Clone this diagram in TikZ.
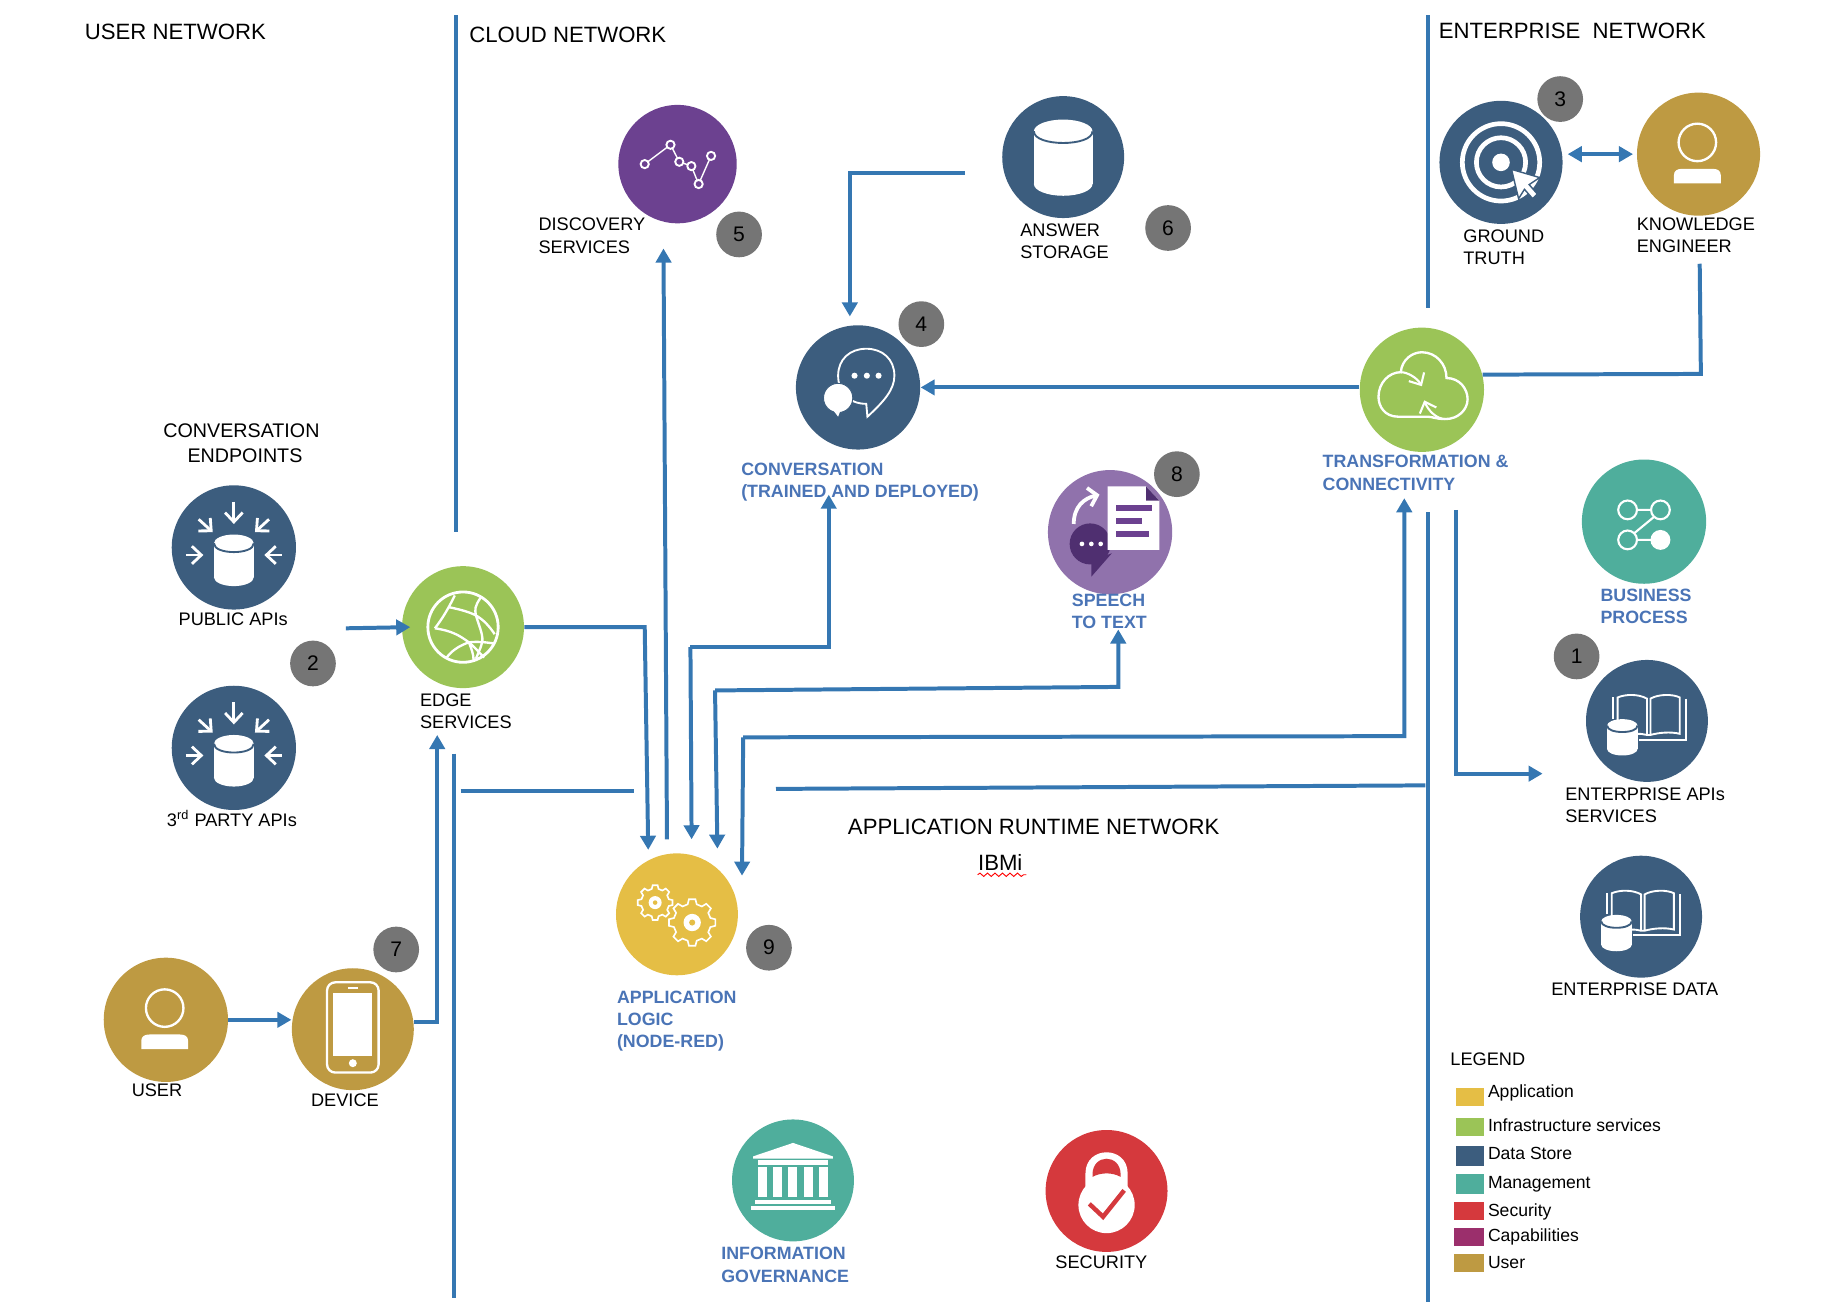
\documentclass[tikz,border=0pt]{standalone}
\usepackage{fontspec}
\setmainfont{Liberation Sans}
\usetikzlibrary{arrows.meta,decorations.pathmorphing}

\definecolor{wire}{HTML}{3577B2}
\definecolor{bluetxt}{HTML}{4A74B6}
\definecolor{appcol}{HTML}{E5BE45}
\definecolor{infracol}{HTML}{9BC457}
\definecolor{datacol}{HTML}{3C5D7E}
\definecolor{mgmtcol}{HTML}{4FAE9C}
\definecolor{seccol}{HTML}{D5393D}
\definecolor{capcol}{HTML}{9B2F6C}
\definecolor{usercol}{HTML}{BE9A42}
\definecolor{discol}{HTML}{6C4190}
\definecolor{speechcol}{HTML}{9072AC}
\definecolor{speechdark}{HTML}{4F2F70}

\tikzset{
  circ/.style 2 args={circle, fill=#1, minimum size=#2*0.5pt, inner sep=0pt},
  badge/.style={circle, fill=black!54, minimum size=19.5pt, inner sep=0pt, font=\fontsize{9}{10}\selectfont},
  head/.style={anchor=west, inner sep=0pt, font=\fontsize{9.45}{11}\selectfont},
  lbl/.style={anchor=west, inner sep=0pt, align=left, font=\fontsize{7.75}{9.5}\selectfont},
  blbl/.style={lbl, text=bluetxt, font=\fontsize{7.6}{9.5}\selectfont\bfseries},
  leg/.style={anchor=west, inner sep=0pt, font=\fontsize{7.5}{9}\selectfont},
  flow/.style={draw=wire, line width=1.7pt},
  ico/.style={draw=white, line width=1pt},
  barb/.style={ico, line width=1.2pt, -{Straight Barb[length=4pt,width=7.5pt]}},
}

% cylinder: centre x, top centre y, bottom centre y, rx, ry, band colour
\newcommand{\cyl}[6]{
  \fill[white] (#1-#4,#2) rectangle (#1+#4,#3);
  \fill[white] (#1,#2) ellipse ({#4} and {#5});
  \fill[white] (#1,#3) ellipse ({#4} and {#5});
  \draw[#6, line width=0.8pt] (#1-#4,#2) .. controls (#1-#4,#2+1.33*#5) and (#1+#4,#2+1.33*#5) .. (#1+#4,#2);
}
\newcommand{\inflowicon}[1]{
  \begin{scope}[shift={(#1)}]
    \cyl{0}{-3.5}{25.5}{17}{7.5}{datacol}
    \foreach \ax/\ay/\bx/\by in {0/-39/0/-20, -30/-24/-18/-13, 30/-24/18/-13, -41/6.5/-26/6.5, 41/6.5/26/6.5}
      \draw[barb] (\ax,\ay) -- (\bx,\by);
  \end{scope}
}
\newcommand{\personicon}[1]{
  \begin{scope}[shift={(#1)}]
    \draw[ico] (-1,-10) circle (16);
    \fill[white] (-21,25) -- (-21,18) .. controls (-21,14) and (-18,12.5) .. (-14,12.5) -- (12,12.5) .. controls (16,12.5) and (19,14) .. (19,18) -- (19,25) -- cycle;
  \end{scope}
}
\newcommand{\bookicon}[1]{
  \begin{scope}[shift={(#1)}, line width=0.8pt]
    \draw[white] (0,12) -- (0,-19) .. controls (-7,-23) and (-18,-23) .. (-25,-20) -- (-25,4);
    \draw[white] (3,12) -- (3,-19) .. controls (10,-23) and (22,-23) .. (28,-20) -- (28,11) .. controls (20,9) and (10,10) .. (3,12) -- (0,12) .. controls (-3,11) and (-6,11) .. (-9,11);
    \draw[white] (-29,-2) -- (-29,-20);
    \draw[white] (33,-19) -- (33,16) -- (-7,16);
    \cyl{-21}{4}{24}{13}{5.5}{datacol}
  \end{scope}
}
% gear: centre x, centre y, outer radius
\newcommand{\gearicon}[3]{
  \begin{scope}[shift={(#1,#2)}]
    \draw[white, line width=0.7pt] (-14:#3*0.8)
      \foreach \k in {0,45,...,315} {
        -- (\k-14:#3*0.8) -- (\k-8:#3) -- (\k+8:#3) -- (\k+14:#3*0.8)
      } -- cycle;
    \fill[white] (0,0) circle (#3*0.37);
    \fill[appcol] (0,0) circle (#3*0.13);
  \end{scope}
}

\begin{document}
\begin{tikzpicture}[x=0.5pt, y=-0.5pt, >={Triangle[length=6pt,width=6.5pt]}]
  \useasboundingbox (0,0) rectangle (1568,1119.3);

  % service circles
  \foreach \nm/\col/\size/\px/\py in {
    discovery/discol/101/578/140, answer/datacol/104/907/134, conv/datacol/106/732/330.5,
    ground/datacol/105/1280.5/138.5, knowledge/usercol/105/1449/131.5, transf/infracol/106/1213/332.5,
    speech/speechcol/106/947/454, business/mgmtcol/106/1402.5/445, entapi/datacol/104/1405/615,
    entdata/datacol/104/1400/782, public/datacol/106/199.5/467, third/datacol/106/199.5/638,
    edge/infracol/104/395/535, user/usercol/106/141.5/870, device/usercol/104/301/878,
    applogic/appcol/104/577.5/780, gov/mgmtcol/104/676.5/1007, security/seccol/104/944/1016}
    {\node[circ={\col}{\size}] (\nm) at (\px,\py) {};}

  % numbered badges
  \foreach \num/\px/\py in {1/1345/560, 2/267/566, 3/1331/84.5, 4/786/276.5, 5/630.5/200,
    6/996.5/194.5, 7/338/810, 8/1004/404.5, 9/656/808.5}
    {\node[badge] (b\num) at (\px,\py) {\num};}

  % icons
  \inflowicon{public}
  \inflowicon{third}
  \personicon{knowledge}
  \personicon{user}
  \bookicon{entapi}
  \bookicon{entdata}

  \begin{scope}[shift={(answer)}]
    \cyl{0}{-22}{23}{25}{10}{datacol}
  \end{scope}

  \begin{scope}[shift={(discovery)}]
    \draw[white, line width=0.6pt] (-28,0) -- (-6,-16.5) -- (1.5,-2) -- (11.8,1.7) -- (18,17) -- (28.6,-7);
    \foreach \px/\py in {-28/0, -6/-16.5, 1.5/-2, 11.8/1.7, 18/17, 28.6/-7}
      \draw[white, fill=discol, line width=0.8pt] (\px,\py) circle (3.5);
  \end{scope}

  \begin{scope}[shift={(conv)}]
    \draw[ico, line width=0.8pt] (8,25) -- (7,14) .. controls (-8,14) and (-17,4) .. (-17,-10)
      .. controls (-17,-24) and (-7,-33) .. (7,-33) .. controls (21,-33) and (31,-24) .. (31,-10)
      .. controls (31,2) and (22,12) .. cycle;
    \fill[white, draw=datacol] (-17,9) circle (12.5);
    \fill[white] (-23,17) -- (-17,25) -- (-14,17) -- cycle;
    \foreach \px in {-3,7.5,17.5}
      \fill[white] (\px,-10) circle (2.6);
  \end{scope}

  \begin{scope}[shift={(ground)}]
    \draw[white, line width=2pt] (0,0) circle (33);
    \draw[white, line width=2pt] (0,0) circle (21);
    \fill[white] (0,0) circle (7.5);
    \fill[white, draw=datacol, line width=0.6pt] (9,6) -- (33,13) -- (24,19) -- (31,27) -- (27,31)
      -- (20,23) -- (15,31) -- cycle;
  \end{scope}

  \begin{scope}[shift={(transf)}]
    \draw[ico] (-20,23) .. controls (-32,23) and (-37,14) .. (-37,6) .. controls (-37,-6) and (-28,-15) .. (-18,-15)
      .. controls (-17,-26) and (-8,-32) .. (0,-32) .. controls (12,-32) and (21,-22) .. (21,-10)
      .. controls (32,-10) and (39,-1) .. (39,8) .. controls (39,17) and (31,25) .. (20,25)
      .. controls (12,25) and (9,23) .. (5,23) -- cycle;
    \draw[barb, line width=0.9pt] (-18,-15) .. controls (-12,-15) and (-4,-10) .. (0,-3);
    \draw[barb, line width=0.9pt] (20,25) .. controls (12,25) and (5,17) .. (2,9);
  \end{scope}

  \begin{scope}[shift={(speech)}]
    \draw[white, line width=1.6pt, -{Straight Barb[length=3.5pt,width=8pt]}] (-31,-7) .. controls (-31,-22) and (-22,-29) .. (-9,-32);
    \fill[speechdark] (-17,10) circle (17.5);
    \fill[speechdark] (-16,24) -- (-16,38) -- (1.5,18) -- cycle;
    \foreach \px in {-24,-16,-8}
      \fill[white] (\px,10) circle (2);
    \fill[white] (-2,-39) -- (30.7,-39) -- (42,-27) -- (42,15) -- (-2,15) -- cycle;
    \fill[speechdark] (30.7,-39) -- (42,-27) -- (30.7,-27) -- cycle;
    \fill[discol] (5,-23.5) rectangle (36,-18);
    \fill[discol] (5,-12.3) rectangle (27,-7);
    \fill[discol] (5,-1.4) rectangle (33,3.7);
  \end{scope}

  \begin{scope}[shift={(business)}, line width=0.9pt]
    \draw[white] (-14,-10) circle (8) (14,-10) circle (8) (-14,15.6) circle (8);
    \fill[white] (14,15.6) circle (8.5);
    \draw[white] (-6,-10) -- (6,-10) (-6,15.6) -- (6,15.6) (8.5,-4) -- (-8.5,10);
  \end{scope}

  \begin{scope}[shift={(edge)}]
    \draw[white, line width=1.2pt] (0,0) circle (30);
    \draw[white, line width=1pt] (-24,1) .. controls (-17,-8) and (-12,-17) .. (-7,-27)
      (-12,-17) .. controls (-2,-15) and (5,-13) .. (11,-10) .. controls (18,-6) and (23,0) .. (27,6)
      (-24,1) .. controls (-10,3) and (-3,7) .. (5,13) .. controls (10,17) and (14,22) .. (18,26)
      (15,-25) .. controls (10,-18) and (10,-15) .. (11,-10) .. controls (14,0) and (18,8) .. (16,14) .. controls (15,18) and (13,22) .. (11,27)
      (-14,26) .. controls (-9,19) and (-1,15) .. (5,13) .. controls (12,12) and (20,13) .. (27,14)
      (5,13) .. controls (7,18) and (9,23) .. (9,28);
  \end{scope}

  \begin{scope}[shift={(device)}]
    \draw[ico, rounded corners=3.5pt] (-22,-40) rectangle (22,37);
    \fill[white] (-16.5,-31.3) rectangle (16.5,22.8);
    \fill[white] (0,29) circle (3.4);
    \draw[white, line width=0.8pt] (-4,-35.5) -- (4,-35.5);
  \end{scope}

  \begin{scope}[shift={(applogic)}]
    \gearicon{-18.6}{-10}{15}
    \gearicon{13}{7}{20}
  \end{scope}

  \begin{scope}[shift={(gov)}]
    \fill[white] (0,-32) -- (34,-20.5) -- (34,-18.5) -- (-34,-18.5) -- (-34,-20.5) -- cycle;
    \fill[white] (-30,-17) rectangle (30,-13.5);
    \foreach \px in {-26.3,-13.3,-0.3,13,25.8}
      \fill[white] (\px-3.7,-11.4) rectangle (\px+3.7,14.2);
    \fill[white] (-32,16.5) rectangle (32,20);
    \fill[white] (-36,22) rectangle (36,25.6);
  \end{scope}

  \begin{scope}[shift={(security)}]
    \fill[white] (-18,8) -- (-18,-15) .. controls (-18,-39) and (18,-39) .. (18,-15) -- (18,8) -- cycle;
    \fill[white] (0,12) ellipse (24 and 24);
    \fill[seccol] (-12,-12) -- (-12,-14) .. controls (-12,-32) and (12,-32) .. (12,-14) -- (12,-12) .. controls (5,-16) and (-5,-16) .. cycle;
    \draw[seccol, line width=1.9pt] (-14.7,11) -- (-3,22) -- (15,-0.5);
  \end{scope}

  % free line ends
  \coordinate (topA) at (389,13);
  \coordinate (topAend) at (389,454);
  \coordinate (lowA) at (387,643);
  \coordinate (lowAend) at (387,1107);
  \coordinate (topB) at (1218,13);
  \coordinate (topBend) at (1218,263);
  \coordinate (lowB) at (1218,437);
  \coordinate (lowBend) at (1218,1111);
  \coordinate (runL) at (393,675);
  \coordinate (runLend) at (541,675);
  \coordinate (runR) at (662,673);
  \coordinate (runRend) at (1216,670);

  % network dividers
  \draw[flow] (topA) -- (topAend);
  \draw[flow] (lowA) -- (lowAend);
  \draw[flow] (topB) -- (topBend);
  \draw[flow] (lowB) -- (lowBend);
  \draw[flow] (runL) -- (runLend);
  \draw[flow] (runR) -- (runRend);

  \coordinate (apiOut) at (295,536);
  \coordinate (edgeIn) at (350,535);
  \coordinate (edgeBend) at (550,535);
  \coordinate (appInA) at (553,725);
  \coordinate (appOut) at (569,716);
  \coordinate (discIn) at (566,212);
  \coordinate (ansOut) at (823,148);
  \coordinate (ansBend) at (725,148);
  \coordinate (convIn) at (725,270);
  \coordinate (splitA) at (589,552);
  \coordinate (bendA) at (707,552);
  \coordinate (convLbl) at (707,422);
  \coordinate (appInB) at (590,716);
  \coordinate (splitB) at (610,589);
  \coordinate (bendB) at (954,586);
  \coordinate (speechLbl) at (954,537);
  \coordinate (appInC) at (612,724);
  \coordinate (splitC) at (634,629);
  \coordinate (bendC) at (1198,628);
  \coordinate (transfLbl) at (1198,425);
  \coordinate (appInD) at (633,747);
  \coordinate (knowOut) at (1450,225);
  \coordinate (knowBend) at (1451,319);
  \coordinate (transfOut) at (1242,435);
  \coordinate (transfBend) at (1242,660);
  \coordinate (apiIn) at (1316,660);
  \coordinate (edgeLow) at (373,627);
  \coordinate (devBend) at (373,872);

  % connectors
  \draw[flow, ->] (apiOut) -- (edgeIn);
  \draw[flow, ->] (edge.east) -- (edgeBend) -- (appInA);
  \draw[flow, ->] (appOut) -- (discIn);
  \draw[flow, ->] (ansOut) -- (ansBend) -- (convIn);
  \draw[flow, ->] (splitA) -- (bendA) -- (convLbl);
  \draw[flow, ->] (splitA) -- (appInB);
  \draw[flow, ->] (splitB) -- (bendB) -- (speechLbl);
  \draw[flow, ->] (splitB) -- (appInC);
  \draw[flow, ->] (splitC) -- (bendC) -- (transfLbl);
  \draw[flow, ->] (splitC) -- (appInD);
  \draw[flow, ->] (transf.west |- conv.east) -- (conv.east);
  \draw[flow] (knowOut) -- (knowBend) -- (transf.14);
  \draw[flow, <->, shorten <=2pt, shorten >=1.5pt] (ground.east |- knowledge.west) -- (knowledge.west);
  \draw[flow, ->] (transfOut) -- (transfBend) -- (apiIn);
  \draw[flow, ->] (user.east) -- (user.east -| device.west);
  \draw[flow, ->] (device.east |- devBend) -- (devBend) -- (edgeLow);

  % headings and labels
  \node[head] (hUser) at (72,27) {USER NETWORK};
  \node[head] (hCloud) at (400,29.5) {CLOUD NETWORK};
  \node[head] (hEnt) at (1227,26) {ENTERPRISE\ \ NETWORK};
  \node[head] (hRun) at (723,705) {APPLICATION RUNTIME NETWORK};
  \node[head] (ibmi) at (834,736) {IBMi};
  \draw[red, line width=0.4pt, decorate, decoration={snake, amplitude=0.7pt, segment length=3.2pt}]
    ([yshift=-1.5pt]ibmi.south west) -- ([yshift=-1.5pt,xshift=1.5pt]ibmi.south east);
  \node[lbl, align=center, font=\fontsize{8.4}{10.4}\selectfont] (hConv) at (139,378) {CONVERSATION\\ \hspace{3pt}ENDPOINTS};

  \node[lbl] (lPublic) at (152,528) {PUBLIC APIs};
  \node[lbl] (lThird) at (142,698) {3\textsuperscript{rd} PARTY APIs};
  \node[lbl] (lEdge) at (358,607) {EDGE\\SERVICES};
  \node[lbl] (lUser) at (112,930.5) {USER};
  \node[lbl] (lDevice) at (265,938.5) {DEVICE};
  \node[lbl] (lDisc) at (459,201) {DISCOVERY\\SERVICES};
  \node[lbl] (lAns) at (870,206) {ANSWER\\STORAGE};
  \node[lbl] (lGround) at (1248,211) {GROUND\\TRUTH};
  \node[lbl] (lKnow) at (1396,200.5) {KNOWLEDGE\\ENGINEER};
  \node[lbl] (lEntApi) at (1335,687) {ENTERPRISE APIs\\SERVICES};
  \node[lbl] (lEntData) at (1323,843.5) {ENTERPRISE DATA};
  \node[lbl] (lSec) at (900,1076.5) {SECURITY};

  \node[blbl] (lConv) at (632,411) {CONVERSATION\\(TRAINED AND DEPLOYED)};
  \node[blbl] (lTransf) at (1128,403.5) {TRANSFORMATION \&\\CONNECTIVITY};
  \node[blbl] (lSpeech) at (914,521.5) {SPEECH\\TO TEXT};
  \node[blbl] (lBiz) at (1365,517) {BUSINESS\\PROCESS};
  \node[blbl] (lApp) at (526,871) {APPLICATION\\LOGIC\\[-0.5pt](NODE-RED)};
  \node[blbl] (lGov) at (615,1079) {INFORMATION\\GOVERNANCE};

  % legend
  \node[leg, font=\fontsize{7.75}{9}\selectfont] (legTitle) at (1237,903.5) {LEGEND};
  \foreach \i/\col/\xa/\ya/\yb/\ty/\txt in {
    1/appcol/1242.3/928.3/943.7/932.8/Application,
    2/infracol/1242.3/953.9/969.3/959.9/Infrastructure services,
    3/datacol/1242.3/977.8/994.9/984/Data Store,
    4/mgmtcol/1242.3/1001.7/1018.8/1010.5/Management,
    5/seccol/1240.6/1025.6/1041/1033.5/Security,
    6/capcol/1240.6/1047.8/1063.1/1055/Capabilities,
    7/usercol/1240.6/1070/1085.3/1076.7/User}
  {
    \fill[\col] (\xa,\ya) rectangle (1266.2,\yb);
    \node[leg] (leg\i) at (1269,\ty) {\txt};
  }
\end{tikzpicture}
\end{document}
